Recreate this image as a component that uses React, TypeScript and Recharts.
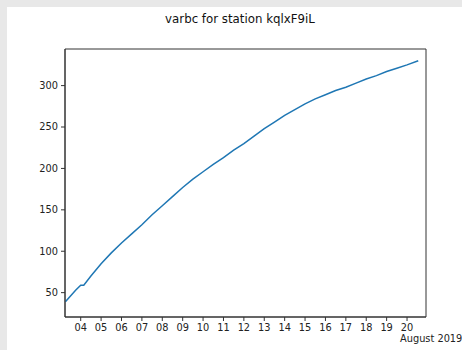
import { LineChart, Line, XAxis, YAxis, ReferenceArea } from 'recharts'

// day of month (August 2019) and varbc value at that time
const days = [3.25, 3.5, 3.75, 4.0, 4.15, 4.5, 5, 5.5, 6, 6.5, 7, 7.5, 8, 8.5, 9, 9.5, 10, 10.5, 11, 11.5, 12, 12.5, 13, 13.5, 14, 14.5, 15, 15.5, 16, 16.5, 17, 17.5, 18, 18.5, 19, 19.5, 20, 20.55]
const varbc = [39, 46, 53, 59, 59, 70, 85, 98, 110, 121, 132, 144, 155, 166, 177, 187, 196, 205, 213, 222, 230, 239, 248, 256, 264, 271, 278, 284, 289, 294, 298, 303, 308, 312, 317, 321, 325, 330]

const dayTicks = [4, 5, 6, 7, 8, 9, 10, 11, 12, 13, 14, 15, 16, 17, 18, 19, 20]
const valueTicks = [50, 100, 150, 200, 250, 300]

const xDomain: [number, number] = [3.23, 20.93]
const yDomain: [number, number] = [20.6, 344.2]

const data = days.map((d, i) => ({ day: d, varbc: varbc[i] }))

const font = '"DejaVu Sans", sans-serif'
const tickStyle = { fontSize: 9.8, fill: '#222', fontFamily: font }

export default function App() {
  return (
    <div style={{ position: 'fixed', left: 0, top: 0, width: 462, height: 350, background: '#e8e8e8', overflow: 'hidden' }}>
      <div style={{ position: 'absolute', left: 7, top: 7, width: 455, height: 343, background: '#fff' }}>
        <div style={{
          position: 'absolute', left: 0, width: 466, top: 5, textAlign: 'center',
          fontFamily: font, fontSize: 11.8, color: '#111',
        }}>
          varbc for station kqlxF9iL
        </div>
        <LineChart width={455} height={343} data={data} margin={{ top: 42, right: 36, bottom: 0, left: 0 }}>
          <XAxis
            dataKey="day"
            type="number"
            domain={xDomain}
            allowDataOverflow
            ticks={dayTicks}
            tickFormatter={(v: number) => String(v).padStart(2, '0')}
            tick={tickStyle}
            tickSize={4}
            tickMargin={3}
            height={33}
            stroke="#333"
          />
          <YAxis
            type="number"
            domain={yDomain}
            allowDataOverflow
            ticks={valueTicks}
            tick={tickStyle}
            tickSize={4}
            tickMargin={3}
            width={58}
            stroke="#333"
          />
          <ReferenceArea x1={xDomain[0]} x2={xDomain[1]} y1={yDomain[0]} y2={yDomain[1]} fill="none" stroke="#333" strokeWidth={1} />
          <Line type="linear" dataKey="varbc" stroke="#1f77b4" strokeWidth={1.5} dot={false} isAnimationActive={false} />
        </LineChart>
        <div style={{ position: 'absolute', left: 393, top: 326, fontFamily: font, fontSize: 9.8, color: '#222', whiteSpace: 'nowrap' }}>
          August 2019
        </div>
      </div>
    </div>
  )
}
